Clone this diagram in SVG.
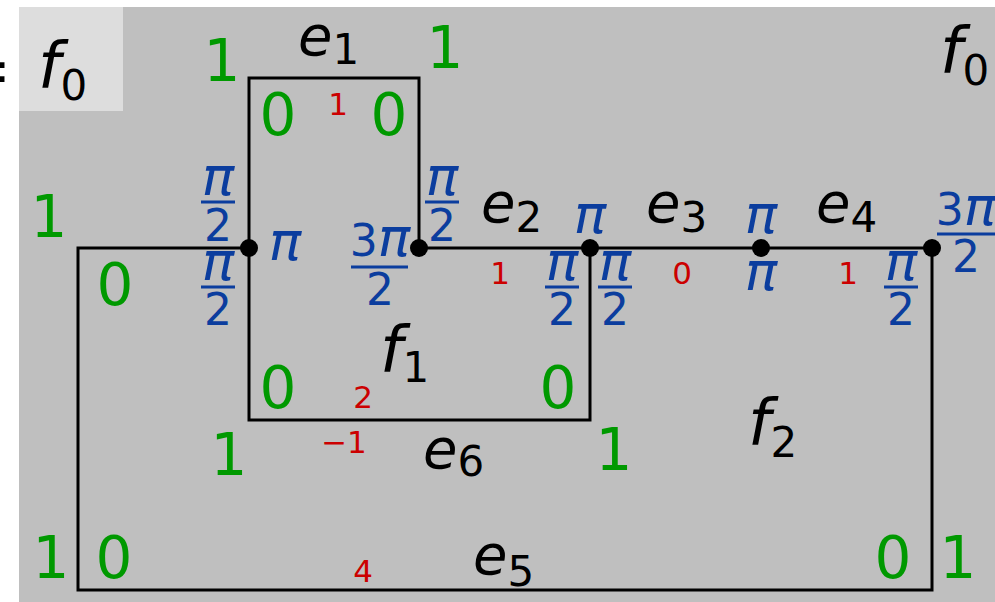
<svg xmlns="http://www.w3.org/2000/svg" width="995" height="602" viewBox="0 0 995 602">
<style>
text{font-family:"DejaVu Sans",sans-serif}
.g{fill:#009900;font-size:58px;text-anchor:middle}
.r{fill:#cc0000;font-size:31px;text-anchor:middle}
.b{fill:#0b3d9e;font-size:44px;text-anchor:middle}
.p{font-size:54px;font-style:italic}
.k{fill:#000;font-size:56px;font-style:italic}
.f{fill:#000;font-size:64px;font-style:italic}
.s{font-size:42px;font-style:normal}
.bar{stroke:#0b3d9e;stroke-width:3}
.edge{stroke:#000;stroke-width:3;fill:none}
</style>
<rect x="19" y="7" width="976" height="595" fill="#bfbfbf"/>
<rect x="19" y="7" width="104" height="104" fill="#dddddd"/>
<text x="12" y="94" style="font-size:70px;text-anchor:end" fill="#000">=</text>
<g id="connectors">
<path class="edge" d="M249,248 V78 H419 V248"/>
<path class="edge" d="M419,248 H932 V590 H78 V248 H249"/>
<path class="edge" d="M249,248 V420 H590 V248"/>
</g>
<g id="v1"><circle cx="249" cy="248" r="9"/></g>
<g id="v2"><circle cx="419" cy="248" r="9"/></g>
<g id="v3"><circle cx="590" cy="248" r="9"/></g>
<g id="v4"><circle cx="761" cy="248" r="9"/></g>
<g id="v5"><circle cx="932" cy="248" r="9"/></g>
<g id="faces">
<text class="f" x="38" y="88">f<tspan class="s" dy="12">0</tspan></text>
<text class="f" x="940" y="73">f<tspan class="s" dy="12">0</tspan></text>
<text class="f" x="380" y="372">f<tspan class="s" dy="10">1</tspan></text>
<text class="f" x="748" y="445">f<tspan class="s" dy="12">2</tspan></text>
</g>
<g id="edges">
<text class="k" x="298" y="55">e<tspan class="s" dy="9">1</tspan></text>
<text class="k" x="481" y="222">e<tspan class="s" dy="10">2</tspan></text>
<text class="k" x="646" y="222">e<tspan class="s" dy="10">3</tspan></text>
<text class="k" x="816" y="222">e<tspan class="s" dy="10">4</tspan></text>
<text class="k" x="473" y="574">e<tspan class="s" dy="12">5</tspan></text>
<text class="k" x="423" y="468">e<tspan class="s" dy="8">6</tspan></text>
</g>
<g id="green">
<text class="g" x="222" y="81">1</text>
<text class="g" x="445" y="68">1</text>
<text class="g" x="278" y="135">0</text>
<text class="g" x="389" y="135">0</text>
<text class="g" x="49" y="237">1</text>
<text class="g" x="115" y="305">0</text>
<text class="g" x="278" y="408">0</text>
<text class="g" x="558" y="408">0</text>
<text class="g" x="229" y="475">1</text>
<text class="g" x="614" y="470">1</text>
<text class="g" x="51" y="578">1</text>
<text class="g" x="114" y="578">0</text>
<text class="g" x="893" y="578">0</text>
<text class="g" x="958" y="578">1</text>
</g>
<g id="red">
<text class="r" x="338" y="115">1</text>
<text class="r" x="500" y="284">1</text>
<text class="r" x="682" y="284">0</text>
<text class="r" x="848" y="284">1</text>
<text class="r" x="363" y="408">2</text>
<text class="r" x="344" y="453">−1</text>
<text class="r" x="363" y="582">4</text>
</g>
<g id="angles">
<text class="b p" x="218" y="195">π</text><line class="bar" x1="201" y1="202" x2="235" y2="202"/><text class="b" x="218" y="241">2</text>
<text class="b p" x="218" y="280">π</text><line class="bar" x1="201" y1="287" x2="235" y2="287"/><text class="b" x="218" y="325">2</text>
<text class="b p" x="285" y="260">π</text>
<text class="b" x="380" y="256">3<tspan class="p">π</tspan></text><line class="bar" x1="351" y1="267" x2="408" y2="267"/><text class="b" x="380" y="305">2</text>
<text class="b p" x="442" y="195">π</text><line class="bar" x1="425" y1="202" x2="459" y2="202"/><text class="b" x="442" y="241">2</text>
<text class="b p" x="590" y="233">π</text>
<text class="b p" x="562" y="280">π</text><line class="bar" x1="545" y1="287" x2="579" y2="287"/><text class="b" x="562" y="325">2</text>
<text class="b p" x="615" y="280">π</text><line class="bar" x1="598" y1="287" x2="632" y2="287"/><text class="b" x="615" y="325">2</text>
<text class="b p" x="761" y="233">π</text>
<text class="b p" x="761" y="290">π</text>
<text class="b p" x="901" y="280">π</text><line class="bar" x1="884" y1="287" x2="918" y2="287"/><text class="b" x="901" y="325">2</text>
<text class="b" x="966" y="225">3<tspan class="p">π</tspan></text><line class="bar" x1="937" y1="234" x2="995" y2="234"/><text class="b" x="966" y="272">2</text>
</g>
</svg>
